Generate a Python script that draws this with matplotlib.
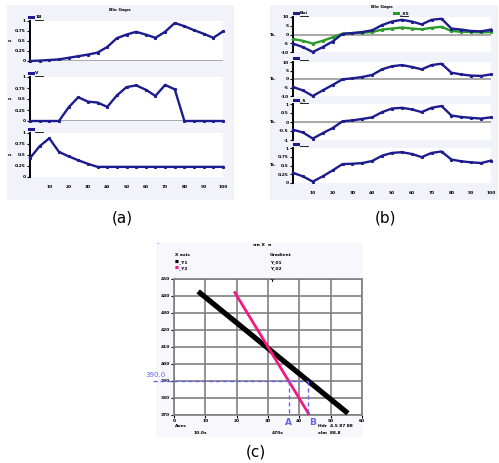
import numpy as np
import matplotlib
matplotlib.use("Agg")
import matplotlib.pyplot as plt
from matplotlib.patches import Rectangle
from matplotlib.lines import Line2D

W, H = 499, 463
fig = plt.figure(figsize=(W / 100, H / 100), dpi=100)
fig.patch.set_facecolor("white")

def fx(x): return x / W
def fy(y): return 1 - y / H
def axes_px(x0, y0, x1, y1):
    ax = fig.add_axes([fx(x0), fy(y1), (x1 - x0) / W, (y1 - y0) / H])
    ax.set_zorder(5)
    return ax

# ---------------- data ----------------
x_pos = list(range(0, 101, 5))
a_top = [0, 0.01, 0.025, 0.04, 0.08, 0.12, 0.16, 0.21, 0.35, 0.57, 0.66, 0.73,
         0.66, 0.58, 0.73, 0.95, 0.87, 0.77, 0.68, 0.58, 0.74]
a_mid = [0, 0, 0, 0, 0.31, 0.54, 0.44, 0.42, 0.32, 0.58, 0.77, 0.81, 0.71, 0.57,
         0.82, 0.72, 0, 0, 0, 0, 0]
a_bot = [0.43, 0.70, 0.88, 0.57, 0.47, 0.38, 0.30, 0.23, 0.23, 0.23, 0.23, 0.23,
         0.23, 0.23, 0.23, 0.23, 0.23, 0.23, 0.23, 0.23, 0.23]
b1_blue = [-5.2, -7.2, -10, -7.2, -4, 0.4, 0.8, 1.4, 2.4, 5.4, 7.4, 8.4, 7.4, 5.8,
           8.4, 9.0, 3.4, 2.8, 2.0, 1.8, 2.8]
b1_green = [-2.6, -3.6, -5.2, -3.6, -1.6, 0.4, 0.8, 1.0, 1.4, 2.8, 3.4, 4.0, 3.4,
            3.0, 3.8, 4.4, 2.0, 1.6, 1.4, 1.2, 1.4]
b2 = [-4.7, -6.7, -10, -6.7, -3.5, -0.2, 0.4, 1.2, 2.4, 5.7, 7.5, 8.2, 7.1, 5.7,
      8.2, 9.0, 3.7, 2.7, 2.0, 1.8, 2.7]
b3 = [-0.43, -0.58, -0.92, -0.62, -0.34, 0.04, 0.09, 0.17, 0.26, 0.55, 0.75, 0.79,
      0.70, 0.55, 0.79, 0.89, 0.36, 0.28, 0.23, 0.19, 0.26]
b4 = [0.29, 0.19, 0.04, 0.19, 0.36, 0.54, 0.55, 0.57, 0.63, 0.78, 0.86, 0.88, 0.83,
      0.74, 0.86, 0.90, 0.67, 0.62, 0.59, 0.57, 0.64]
x_ticks = [10, 20, 30, 40, 50, 60, 70, 80, 90, 100]

c_black_x = [7.7, 55.5]
c_black_y = [442.7, 371.0]
c_pink_x = [19.2, 43.2]
c_pink_y = [442.7, 370.0]
c_level = 390.0
c_xticks = [0, 10, 20, 30, 40, 50, 60]
c_yticks = [370, 380, 390, 400, 410, 420, 430, 440, 450]

NAVY = "#1c1c8f"
GREEN = "#2b9a2b"
PINK = "#f2187f"
DBLUE = "#6464f0"
BG = "#f2f3fa"
TS = 3.2

# ---------------- backgrounds ----------------
for (x0, y0, x1, y1, c) in [(7, 5, 234, 200, BG), (270, 5, 498, 200, BG), (156, 243, 363, 437, "#f7f7fc")]:
    fig.patches.append(Rectangle((fx(x0), fy(y1)), (x1 - x0) / W, (y1 - y0) / H,
                                 transform=fig.transFigure, facecolor=c, edgecolor="none", zorder=-10))

def style_series_axes(ax, ylim, yticks, zero_line=True, bottom_ticks=False):
    ax.set_facecolor("white")
    ax.set_xlim(0, 100)
    ax.set_ylim(*ylim)
    for s in ["top", "right", "bottom"]:
        ax.spines[s].set_visible(False)
    ax.spines["left"].set_color("black")
    ax.spines["left"].set_linewidth(1.4)
    ax.set_yticks(yticks)
    ax.set_yticklabels([f"{v:g}" for v in yticks], fontsize=TS, fontweight="bold")
    ax.tick_params(axis="y", length=2, width=0.8, pad=1)
    if zero_line:
        ax.axhline(0 if ylim[0] < 0 else ylim[0], color="#999999", lw=1.2, zorder=1)
    if bottom_ticks:
        ax.set_xticks(x_ticks)
        ax.set_xticklabels([str(v) for v in x_ticks], fontsize=TS, fontweight="bold")
        ax.tick_params(axis="x", length=0, pad=6)
    else:
        ax.set_xticks([])

def plot_series(ax, y, color):
    ax.plot(x_pos, y, color=color, lw=1.7, marker="s", ms=1.2, zorder=3, clip_on=False)

def legend_px(x, y, color, label):
    fig.lines.append(Line2D([fx(x), fx(x + 4)], [fy(y), fy(y)], color=color, lw=2.2,
                            transform=fig.transFigure, zorder=10))
    fig.text(fx(x + 6), fy(y), label, fontsize=TS, fontweight="bold", va="center", ha="left", zorder=10)
    fig.lines.append(Line2D([fx(x + 6), fx(x + 14)], [fy(y + 2.5), fy(y + 2.5)], color="black", lw=0.6,
                            transform=fig.transFigure, zorder=10))

# ---------------- panel (a) ----------------
fig.text(fx(120), fy(10), "Ble Gaps", fontsize=TS, fontweight="bold", ha="center", va="center")
a_axes = [(21, 61), (77, 121), (133, 177)]
a_data = [a_top, a_mid, a_bot]
a_labels = ["1B", "V", ""]
for i, ((y0, y1), d, lab) in enumerate(zip(a_axes, a_data, a_labels)):
    ax = axes_px(30, y0, 223, y1)
    style_series_axes(ax, (0, 1), [0, 0.25, 0.5, 0.75, 1.0], zero_line=(i < 2), bottom_ticks=(i == 2))
    plot_series(ax, d, NAVY)
    legend_px(29, y0 - 4, NAVY, lab)
    fig.text(fx(10), fy((y0 + y1) / 2), "n.", fontsize=TS, fontweight="bold", ha="center", va="center")

# ---------------- panel (b) ----------------
fig.text(fx(382), fy(7), "Ble Gaps", fontsize=TS, fontweight="bold", ha="center", va="center")
b_axes = [(17, 52), (62, 96), (104, 140), (148, 183)]
b_data = [b1_blue, b2, b3, b4]
b_ylims = [(-10, 10), (-10, 10), (-1, 1), (0, 1)]
b_yt = [[-10, -5, 0, 5, 10], [-10, -5, 0, 5, 10], [-1, -0.5, 0, 0.5, 1], [0, 0.25, 0.5, 0.75, 1]]
for i, ((y0, y1), d, yl, yt) in enumerate(zip(b_axes, b_data, b_ylims, b_yt)):
    ax = axes_px(293, y0, 491, y1)
    style_series_axes(ax, yl, yt, zero_line=(i < 3), bottom_ticks=(i == 3))
    if i == 0:
        plot_series(ax, b1_green, GREEN)
    plot_series(ax, d, NAVY)
    fig.text(fx(273), fy((y0 + y1) / 2), "Ts.", fontsize=TS, fontweight="bold", ha="center", va="center")
    legend_px(294, y0 - 4, NAVY, "Bui" if i == 0 else ("_S" if i == 2 else ""))
legend_px(394, 13, GREEN, "_X5")

# ---------------- panel (c) ----------------
axc = axes_px(174, 279, 362, 415)
axc.set_facecolor("white")
axc.set_xlim(c_xticks[0], c_xticks[-1])
axc.set_ylim(c_yticks[0], c_yticks[-1])
axc.set_xticks(c_xticks)
axc.set_yticks(c_yticks)
axc.set_xticklabels([str(v) for v in c_xticks], fontsize=TS, fontweight="bold")
axc.set_yticklabels([str(v) for v in c_yticks], fontsize=TS, fontweight="bold")
axc.tick_params(length=2, width=0.8, pad=1)
axc.grid(True, color="#808080", lw=1.2)
for s in axc.spines.values():
    s.set_color("#808080")
    s.set_linewidth(1.2)
axc.plot(c_black_x, c_black_y, color="black", lw=3.8, solid_capstyle="butt", zorder=3)
axc.plot(c_pink_x, c_pink_y, color=PINK, lw=2.0, solid_capstyle="butt", zorder=4)

xa = float(np.interp(c_level, c_pink_y[::-1], c_pink_x[::-1]))
xb = float(np.interp(c_level, c_black_y[::-1], c_black_x[::-1]))
x_left = c_xticks[0] - 0.11 * (c_xticks[-1] - c_xticks[0])
axc.plot([x_left, xb], [c_level, c_level], color=DBLUE, lw=1.0, ls=(0, (3, 2)), clip_on=False, zorder=5)
for xv in (xa, xb):
    axc.plot([xv, xv], [c_level, c_yticks[0]], color=DBLUE, lw=1.0, ls=(0, (3, 2)), zorder=5)
axc.text(c_xticks[0] - 0.15 * (c_xticks[-1] - c_xticks[0]), c_level + 1.5, f"{c_level:.1f}",
         color=DBLUE, fontsize=5, ha="left", va="bottom")
axc.text(xa, c_yticks[0] - 1.5, "A", color=DBLUE, fontsize=6.5, fontweight="bold", ha="center", va="top")
axc.text(xb + 1.5, c_yticks[0] - 1.5, "B", color=DBLUE, fontsize=6.5, fontweight="bold", ha="center", va="top")

fig.text(fx(158), fy(245), "•", color=DBLUE, fontsize=3, ha="center", va="center")
fig.text(fx(262), fy(245), "ππ X  π", fontsize=TS, fontweight="bold", ha="center", va="center")
fig.text(fx(175), fy(255), "X axis", fontsize=TS, fontweight="bold", ha="left", va="center")
fig.text(fx(270), fy(255), "Gradient", fontsize=TS, fontweight="bold", ha="left", va="center")
fig.text(fx(270), fy(262), "Y_01", fontsize=TS, fontweight="bold", ha="left", va="center")
fig.text(fx(270), fy(268), "Y_02", fontsize=TS, fontweight="bold", ha="left", va="center")
fig.text(fx(270), fy(281), "Y", fontsize=TS, fontweight="bold", ha="left", va="center", zorder=10)
for yy, col, lab in [(262, "black", "_Y1"), (268, PINK, "_Y2")]:
    fig.text(fx(175), fy(yy), "■", color=col, fontsize=3, ha="left", va="center")
    fig.text(fx(179), fy(yy), lab, fontsize=TS, fontweight="bold", ha="left", va="center")
fig.text(fx(175), fy(426), "Axes", fontsize=TS, fontweight="bold", ha="left", va="center")
fig.text(fx(200), fy(433), "10.0s", fontsize=TS, fontweight="bold", ha="center", va="center")
fig.text(fx(278), fy(433), "470s", fontsize=TS, fontweight="bold", ha="center", va="center")
fig.text(fx(318), fy(426), "Hdr  4.5 87 88", fontsize=TS, fontweight="bold", ha="left", va="center")
fig.text(fx(318), fy(433), "xlm  88.8", fontsize=TS, fontweight="bold", ha="left", va="center")

# ---------------- panel labels ----------------
fig.text(fx(122), fy(218), "(a)", fontsize=11, ha="center", va="center")
fig.text(fx(385), fy(218), "(b)", fontsize=11, ha="center", va="center")
fig.text(fx(256), fy(452), "(c)", fontsize=11, ha="center", va="center")

fig.savefig("out.png", dpi=100)
